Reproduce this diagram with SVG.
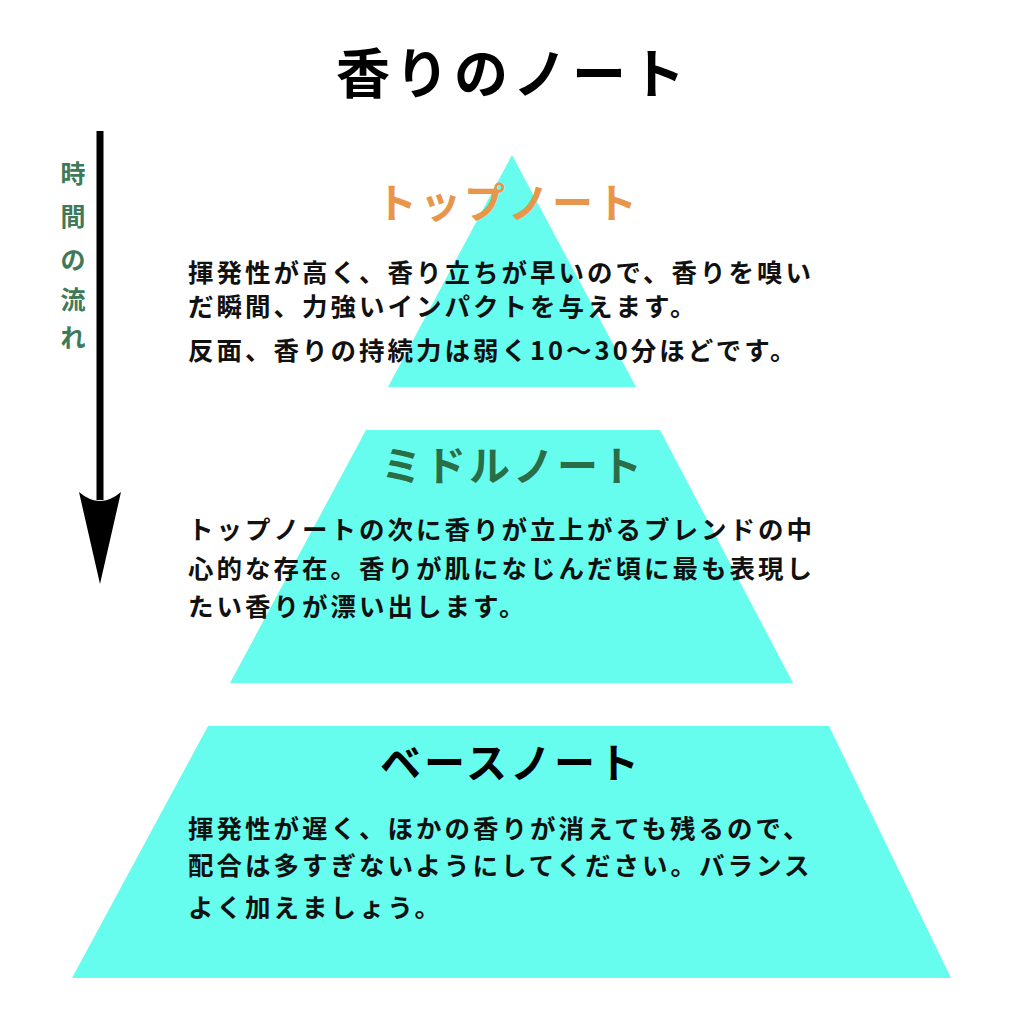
<svg xmlns="http://www.w3.org/2000/svg" width="1024" height="1024" viewBox="0 0 1024 1024">
<style>
.bg{fill:#ffffff}
.tier{fill:#67fdee}
.title{font-family:"Noto Sans CJK JP","Noto Sans",sans-serif;font-weight:bold;font-size:54px;fill:#000;letter-spacing:5px}
.head{font-family:"Noto Sans CJK JP","Noto Sans",sans-serif;font-weight:bold;font-size:41px;letter-spacing:3px}
.body{font-family:"Noto Sans CJK JP","Noto Sans",sans-serif;font-weight:bold;font-size:25.5px;fill:#111;letter-spacing:3px}
.time{font-family:"Noto Sans CJK JP","Noto Sans",sans-serif;font-weight:bold;font-size:25px;fill:#3e7a5a}
</style>
<rect class="bg" x="0" y="0" width="1024" height="1024"/>
<text class="title" x="513" y="70" text-anchor="middle" dominant-baseline="central">香りのノート</text>
<g id="top-note">
<polygon class="tier" points="512,155 636,387 388,387"/>
<text class="head" x="508" y="200" text-anchor="middle" dominant-baseline="central" fill="#e8964a">トップノート</text>
<text class="body" x="188" y="270" dominant-baseline="central">揮発性が高く、香り立ちが早いので、香りを嗅い</text>
<text class="body" x="188" y="304" dominant-baseline="central">だ瞬間、力強いインパクトを与えます。</text>
<text class="body" x="188" y="348" dominant-baseline="central">反面、香りの持続力は弱く10〜30分ほどです。</text>
</g>
<g id="middle-note">
<polygon class="tier" points="366,430 660,430 793,683 230,683"/>
<text class="head" x="513" y="463" text-anchor="middle" dominant-baseline="central" fill="#2a6e48">ミドルノート</text>
<text class="body" x="188" y="527" dominant-baseline="central">トップノートの次に香りが立上がるブレンドの中</text>
<text class="body" x="188" y="566" dominant-baseline="central">心的な存在。香りが肌になじんだ頃に最も表現し</text>
<text class="body" x="188" y="604" dominant-baseline="central">たい香りが漂い出します。</text>
</g>
<g id="base-note">
<polygon class="tier" points="208,726 829,726 951,978 72,978"/>
<text class="head" x="511" y="760" text-anchor="middle" dominant-baseline="central" fill="#000">ベースノート</text>
<text class="body" x="188" y="826" dominant-baseline="central">揮発性が遅く、ほかの香りが消えても残るので、</text>
<text class="body" x="188" y="863" dominant-baseline="central">配合は多すぎないようにしてください。バランス</text>
<text class="body" x="188" y="905" dominant-baseline="central">よく加えましょう。</text>
</g>
<g id="connectors">
<line x1="100" y1="131" x2="100" y2="500" stroke="#000" stroke-width="7"/>
<path d="M79,492 Q100,510 121,492 L100,584 Z" fill="#000"/>
</g>
<g id="time-label">
<text class="time" x="73" y="172" text-anchor="middle" dominant-baseline="central">時</text>
<text class="time" x="73" y="215" text-anchor="middle" dominant-baseline="central">間</text>
<text class="time" x="73" y="258" text-anchor="middle" dominant-baseline="central">の</text>
<text class="time" x="73" y="298" text-anchor="middle" dominant-baseline="central">流</text>
<text class="time" x="73" y="336" text-anchor="middle" dominant-baseline="central">れ</text>
</g>
</svg>
